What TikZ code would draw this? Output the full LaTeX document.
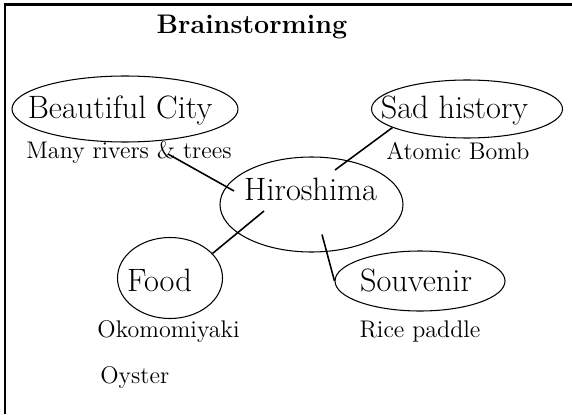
\documentclass[tikz,border=0pt]{standalone}
\usepackage{fontspec}
\usetikzlibrary{shapes.geometric, calc}

\begin{document}
\begin{tikzpicture}[x=1cm, y=1cm]
\tikzset{
  bub/.style={ellipse,draw=black,line width=0.6pt,inner sep=0pt},
  big/.style={inner sep=0pt,anchor=base,font=\fontsize{18.4}{22}\selectfont},
  note/.style={inner sep=0pt,anchor=base,font=\fontsize{13.7}{16}\selectfont},
  ttl/.style={inner sep=0pt,anchor=base,font=\fontsize{15.3}{18}\selectfont\bfseries},
  ln/.style={line width=0.9pt,draw=black}
}
\useasboundingbox (0,0) rectangle (11.44,8.28);
% ---- frame and title
\draw[line width=1.2pt] (0.10,0) -- (0.10,8.19) -- (11.44,8.19);
\node[ttl] (title) at (5.04,7.60) {Brainstorming};
% ---- bubbles
\node[bub,minimum width=4.52cm,minimum height=1.32cm] (city) at (2.50,6.10) {};
\node[bub,minimum width=3.82cm,minimum height=1.16cm] (sad)  at (9.34,6.10) {};
\node[bub,minimum width=3.66cm,minimum height=1.90cm] (hiro) at (6.23,4.19) {};
\node[bub,minimum width=2.10cm,minimum height=1.62cm] (food) at (3.40,2.72) {};
\node[bub,minimum width=3.40cm,minimum height=1.20cm] (souv) at (8.40,2.66) {};
\node[big] (citytxt) at (2.40,5.92) {Beautiful City};
\node[big] (sadtxt)  at (9.09,5.92) {Sad history};
\node[big] (hirotxt) at (6.21,4.27) {Hiroshima};
\node[big] (foodtxt) at (3.19,2.46) {Food};
\node[big] (souvtxt) at (8.32,2.46) {Souvenir};
% ---- notes
\node[note] (many)   at (2.58,5.12) {Many rivers \& trees};
\node[note] (atomic) at (9.16,5.10) {Atomic Bomb};
\node[note] (okono)  at (3.37,1.54) {Okomomiyaki};
\node[note,anchor=base west] (oyster) at (2.00,0.62) {Oyster};
\node[note] (rice)   at (8.40,1.54) {Rice paddle};
% ---- lines
\draw[ln] ($(many.base)+(0.78,0.08)$) -- ($(hiro)+(-1.55,0.27)$);
\draw[ln] (sad.194) -- ($(hiro)+(0.47,0.69)$);
\draw[ln] ($(hiro)+(-0.95,-0.13)$) -- (food.30);
\draw[ln] ($(hiro)+(0.21,-0.60)$) -- (souv.west);
\end{tikzpicture}
\end{document}
